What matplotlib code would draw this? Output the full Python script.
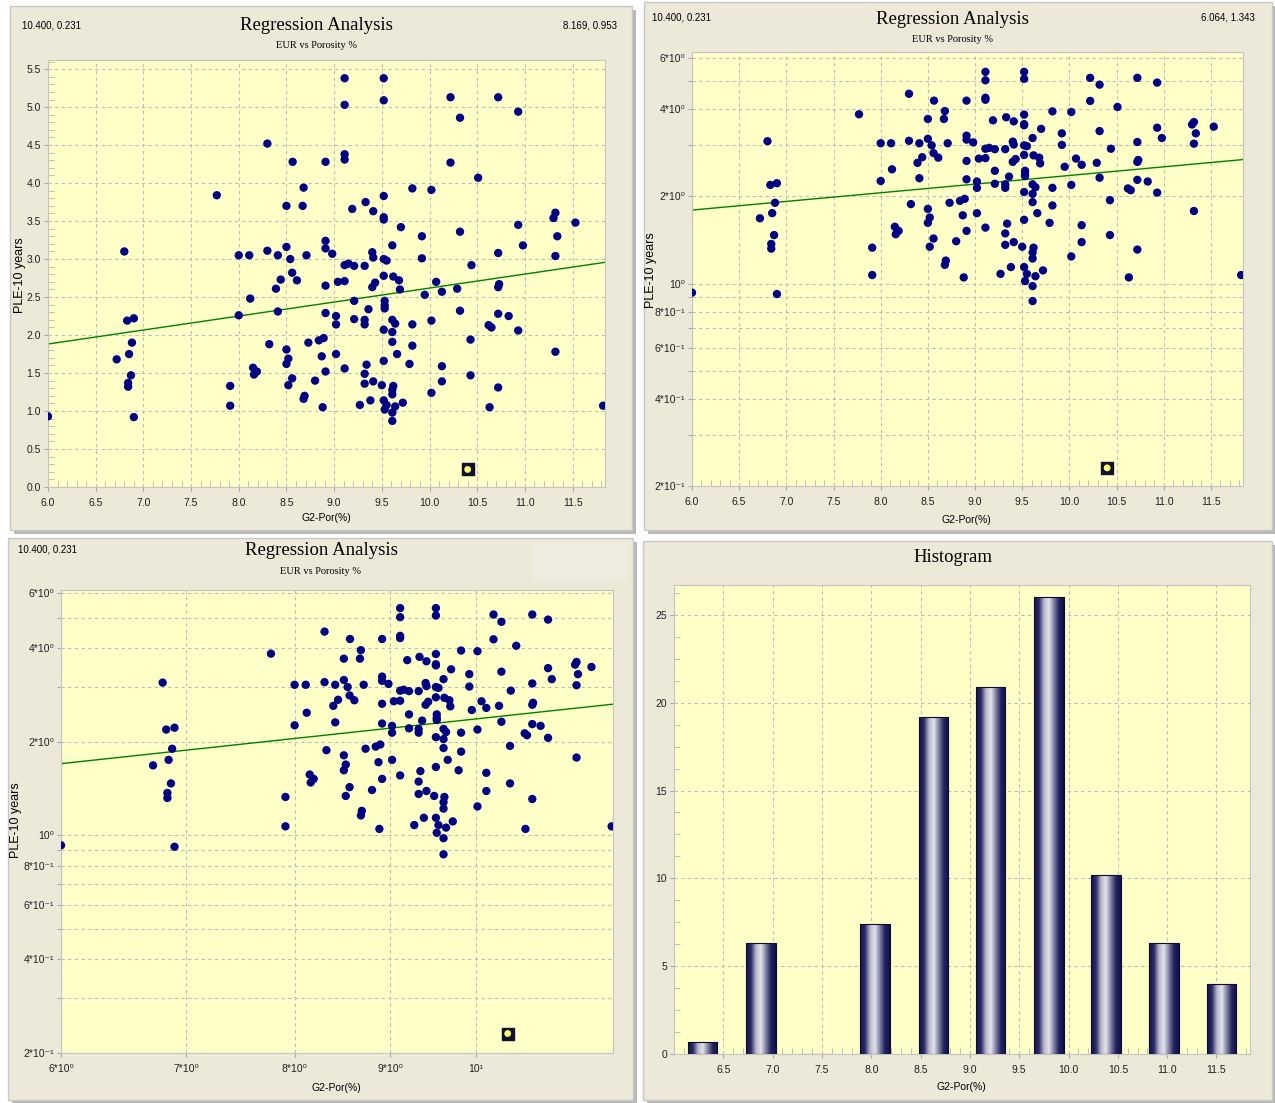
import numpy as np
import matplotlib.pyplot as plt
from matplotlib.patches import Rectangle
from matplotlib.colors import LinearSegmentedColormap
from matplotlib.ticker import MultipleLocator, FixedLocator, FixedFormatter, NullLocator

# porosity (%) and PLE-10 years
por = [8.30, 8.565, 8.91, 8.68, 7.77, 8.50, 8.67, 6.80, 8.00, 8.11,
       8.30, 8.41, 8.50, 8.54, 8.71, 8.91, 8.91, 8.98, 8.56, 8.44,
       8.61, 8.39, 8.91, 9.04, 8.12, 9.11, 9.52, 9.11, 9.52, 10.22,
       10.72, 10.32, 10.93, 9.11, 9.11, 10.22, 10.51, 9.82, 10.02, 9.52,
       9.19, 9.33, 9.41, 9.52, 9.52, 9.70, 9.92, 10.32, 10.93, 11.30,
       11.32, 11.53, 11.34, 9.61, 9.92, 9.40, 9.41, 9.52, 9.55, 9.11,
       9.15, 9.21, 9.32, 10.44, 10.72, 10.98, 11.32, 9.11, 9.52, 9.62,
       9.68, 9.69, 9.40, 9.43, 10.07, 9.95, 10.13, 10.29, 10.72, 10.73,
       9.21, 9.53, 6.00, 6.83, 6.90, 6.88, 6.72, 6.85, 6.87, 6.84,
       6.84, 6.90, 7.91, 7.91, 8.00, 8.41, 8.32, 8.15, 8.19, 8.16,
       8.50, 8.52, 8.50, 8.56, 8.52, 8.69, 8.68, 8.73, 8.84, 8.89,
       8.87, 8.91, 8.80, 8.88, 8.91, 9.02, 9.02, 9.02, 9.36, 9.53,
       9.53, 9.21, 9.32, 9.32, 9.61, 9.64, 9.52, 9.61, 9.82, 10.02,
       10.32, 10.72, 10.83, 10.62, 10.65, 10.93, 10.43, 9.61, 9.82, 9.66,
       9.52, 9.34, 9.11, 9.32, 9.32, 9.41, 9.50, 9.79, 10.13, 10.13,
       10.43, 9.62, 9.61, 9.61, 10.02, 10.72, 11.32, 9.38, 9.27, 9.52,
       9.55, 9.53, 9.64, 9.72, 9.61, 9.61, 10.63, 11.82]
ple = [4.52, 4.28, 4.28, 3.94, 3.84, 3.70, 3.70, 3.10, 3.05, 3.05,
       3.11, 3.05, 3.16, 3.00, 3.05, 3.24, 3.14, 3.07, 2.82, 2.73,
       2.72, 2.61, 2.65, 2.70, 2.48, 5.38, 5.38, 5.03, 5.09, 5.13,
       5.13, 4.86, 4.94, 4.38, 4.31, 4.27, 4.07, 3.93, 3.91, 3.83,
       3.66, 3.75, 3.63, 3.55, 3.52, 3.42, 3.30, 3.36, 3.45, 3.54,
       3.61, 3.48, 3.30, 3.18, 3.01, 3.09, 3.02, 3.00, 2.98, 2.92,
       2.94, 2.91, 2.91, 2.92, 3.08, 3.18, 3.04, 2.71, 2.78, 2.77,
       2.72, 2.60, 2.63, 2.69, 2.70, 2.53, 2.57, 2.61, 2.63, 2.67,
       2.45, 2.45, 0.93, 2.19, 2.22, 1.90, 1.68, 1.75, 1.47, 1.37,
       1.32, 0.92, 1.33, 1.07, 2.26, 2.31, 1.88, 1.57, 1.52, 1.48,
       1.81, 1.69, 1.62, 1.43, 1.34, 1.20, 1.16, 1.90, 1.93, 1.96,
       1.72, 1.52, 1.40, 1.05, 2.29, 2.25, 2.14, 1.75, 2.34, 2.39,
       2.35, 2.21, 2.20, 2.14, 2.20, 2.15, 2.07, 2.04, 2.14, 2.19,
       2.32, 2.28, 2.25, 2.13, 2.10, 2.06, 1.94, 1.91, 1.86, 1.75,
       1.66, 1.61, 1.56, 1.49, 1.36, 1.39, 1.34, 1.62, 1.59, 1.39,
       1.47, 1.33, 1.28, 1.22, 1.24, 1.31, 1.78, 1.14, 1.08, 1.14,
       1.08, 1.02, 1.06, 1.11, 0.98, 0.87, 1.05, 1.07]
# the highlighted (selected) well
sel_por, sel_ple = 10.400, 0.231

# histogram of porosity (percent of wells per bin)
hist_centers = [6.29, 6.88, 7.46, 8.04, 8.63, 9.21, 9.80, 10.38, 10.97, 11.55]
hist_pct = [0.7, 6.3, 0.0, 7.4, 19.2, 20.9, 26.0, 10.2, 6.3, 4.0]

lin_ticks = [6.0, 6.5, 7.0, 7.5, 8.0, 8.5, 9.0, 9.5, 10.0, 10.5, 11.0, 11.5]
log_y_grid = [0.2, 0.3, 0.4, 0.5, 0.6, 0.7, 0.8, 0.9, 1, 2, 3, 4, 5, 6]
log_y_text = ['2*10⁻¹', '', '4*10⁻¹', '', '6*10⁻¹', '', '8*10⁻¹', '', '10⁰',
              '2*10⁰', '', '4*10⁰', '', '6*10⁰']
log_x_ticks = [6, 7, 8, 9, 10]
log_x_text = ['6*10⁰', '7*10⁰', '8*10⁰', '9*10⁰', '10¹']

plt.rcParams['font.family'] = ['Liberation Sans', 'DejaVu Sans']

W, H = 1275, 1103
fig = plt.figure(figsize=(W / 100, H / 100), dpi=100, facecolor='white')

PANEL = '#ece9d8'
PLOT_BG = '#ffffc8'
DOT = '#000080'
SERIF = ['Liberation Serif', 'DejaVu Serif']


def fx(x):
    return x / W


def fy(y):
    return 1 - y / H


def panel(l, t, r, b):
    fig.patches.append(Rectangle((fx(l + 4), fy(b + 4)), fx(r - l), (b - t) / H,
                                 transform=fig.transFigure, facecolor='#b8b8b8',
                                 edgecolor='none', zorder=-3))
    fig.patches.append(Rectangle((fx(l), fy(b)), fx(r - l), (b - t) / H,
                                 transform=fig.transFigure, facecolor=PANEL,
                                 edgecolor='#c8c8c8', lw=1, zorder=-2))


def axes(l, t, r, b):
    return fig.add_axes([fx(l), fy(b), fx(r - l), (b - t) / H])


def style(ax):
    ax.set_facecolor(PLOT_BG)
    for s in ax.spines.values():
        s.set_color('#c4c4c4')
    ax.grid(True, which='major', color='#bcbcbc', ls=(0, (3, 3)), lw=0.8)
    ax.set_axisbelow(True)
    ax.tick_params(which='major', direction='out', length=3, color='#a8a8a8',
                   labelsize=7.5, pad=2, labelcolor='#202020')
    ax.tick_params(axis='x', which='major', pad=5)
    ax.tick_params(which='minor', direction='in', length=4, color='#b4b4b4')


def headers(cx, ty, left_txt, lx, right_txt=None, rx=None):
    fig.text(fx(lx), fy(ty), left_txt, fontsize=7, ha='left', va='center')
    if right_txt:
        fig.text(fx(rx), fy(ty), right_txt, fontsize=7, ha='right', va='center')
    fig.text(fx(cx), fy(ty + 1), 'Regression Analysis', family=SERIF, fontsize=13.5,
             ha='center', va='center')
    fig.text(fx(cx), fy(ty + 21), 'EUR vs Porosity %', family=SERIF, fontsize=7.5,
             ha='center', va='center')


def dots(ax):
    ax.scatter(por, ple, s=36, color=DOT, edgecolors='none', zorder=3)
    ax.scatter([sel_por], [sel_ple], s=75, marker='s', color='#101030', zorder=4)
    ax.scatter([sel_por], [sel_ple], s=24, color='#ffff70', edgecolors='none', zorder=5)


# the fit uses every well, the selected one included
x = np.array(por + [sel_por])
y = np.array(ple + [sel_ple])

panel(10, 6, 632, 530)
panel(644, 2, 1272, 530)
panel(8, 538, 633, 1100)
panel(643, 541, 1272, 1100)

# ---- top left: linear scatter
ax1 = axes(48, 60, 605, 487)
style(ax1)
dots(ax1)
ax1.set_xlim(6.0, 11.84)
ax1.set_ylim(0, 5.62)
ax1.set_xticks(lin_ticks)
ax1.set_xticklabels([f'{t:.1f}' for t in lin_ticks])
ax1.set_yticks(np.arange(0, 5.51, 0.5))
ax1.set_yticklabels([f'{t:.1f}' for t in np.arange(0, 5.51, 0.5)])
ax1.xaxis.set_minor_locator(MultipleLocator(0.1))
ax1.yaxis.set_minor_locator(MultipleLocator(0.1))
k, c = np.polyfit(x, y, 1)
xs = np.array(ax1.get_xlim())
ax1.plot(xs, c + k * xs, color='#008000', lw=1, zorder=2)
headers(316, 25, '10.400, 0.231', 22, '8.169, 0.953', 617)
fig.text(fx(326), fy(518), 'G2-Por(%)', fontsize=7.5, ha='center', va='center')
fig.text(fx(20), fy(275), 'PLE-10 years', fontsize=9, rotation=90, ha='center', va='center')

# ---- top right: log y
ax2 = axes(692, 52, 1243, 486)
style(ax2)
dots(ax2)
ax2.set_yscale('log')
ax2.set_xlim(6.0, 11.84)
ax2.set_ylim(0.2, 6.3)
ax2.set_xticks(lin_ticks)
ax2.set_xticklabels([f'{t:.1f}' for t in lin_ticks])
ax2.xaxis.set_minor_locator(MultipleLocator(0.1))
ax2.yaxis.set_major_locator(FixedLocator(log_y_grid))
ax2.yaxis.set_major_formatter(FixedFormatter(log_y_text))
ax2.yaxis.set_minor_locator(NullLocator())
k, c = np.polyfit(x, np.log10(y), 1)
xs = np.array(ax2.get_xlim())
ax2.plot(xs, 10 ** (c + k * xs), color='#008000', lw=1, zorder=2)
headers(952, 18, '10.400, 0.231', 652, '6.064, 1.343', 1255)
fig.text(fx(966), fy(520), 'G2-Por(%)', fontsize=7.5, ha='center', va='center')
fig.text(fx(651), fy(270), 'PLE-10 years', fontsize=9, rotation=90, ha='center', va='center')

# ---- bottom left: log-log
ax3 = axes(61, 590, 613, 1053)
style(ax3)
dots(ax3)
ax3.set_xscale('log')
ax3.set_yscale('log')
ax3.set_xlim(6.0, 11.84)
ax3.set_ylim(0.2, 6.15)
ax3.xaxis.set_major_locator(FixedLocator(log_x_ticks))
ax3.xaxis.set_major_formatter(FixedFormatter(log_x_text))
ax3.xaxis.set_minor_locator(NullLocator())
ax3.yaxis.set_major_locator(FixedLocator(log_y_grid))
ax3.yaxis.set_major_formatter(FixedFormatter(log_y_text))
ax3.yaxis.set_minor_locator(NullLocator())
k, c = np.polyfit(np.log10(x), np.log10(y), 1)
xs = np.array(ax3.get_xlim())
ax3.plot(xs, 10 ** (c + k * np.log10(xs)), color='#008000', lw=1, zorder=2)
headers(321, 550, '10.400, 0.231', 18)
fig.patches.append(Rectangle((fx(532), fy(580)), fx(96), 36 / H, transform=fig.transFigure,
                             facecolor='#efede2', edgecolor='none', zorder=-1))
fig.text(fx(336), fy(1088), 'G2-Por(%)', fontsize=7.5, ha='center', va='center')
fig.text(fx(16), fy(820), 'PLE-10 years', fontsize=9, rotation=90, ha='center', va='center')

# ---- bottom right: histogram
ax4 = axes(674, 585, 1250, 1054)
style(ax4)
ax4.set_xlim(6.0, 11.84)
ax4.set_ylim(0, 26.7)
bars = ax4.bar(hist_centers, hist_pct, width=0.3, color='none',
               edgecolor='#0c0c30', lw=0.8, zorder=4)
cyl = LinearSegmentedColormap.from_list(
    'cyl', ['#10104a', '#2c2c68', '#b8b8cc', '#e4e4ec', '#8080a4', '#24245e', '#10104a'])
grad = np.linspace(0, 1, 128)[None, :]
for b in bars:
    if b.get_height() <= 0:
        continue
    bx, bw, bh = b.get_x(), b.get_width(), b.get_height()
    im = ax4.imshow(grad, cmap=cyl, extent=(bx, bx + bw, 0, bh), aspect='auto', zorder=3)
    im.set_clip_path(b)
ax4.set_xlim(6.0, 11.84)
ax4.set_ylim(0, 26.7)
hist_ticks = lin_ticks[1:]
ax4.set_xticks(hist_ticks)
ax4.set_xticklabels([f'{t:.1f}' for t in hist_ticks])
ax4.set_yticks([0, 5, 10, 15, 20, 25])
ax4.xaxis.set_minor_locator(MultipleLocator(0.1))
ax4.yaxis.set_minor_locator(MultipleLocator(1.25))
fig.text(fx(953), fy(558), 'Histogram', family=SERIF, fontsize=13.5, ha='center', va='center')
fig.text(fx(961), fy(1087), 'G2-Por(%)', fontsize=7.5, ha='center', va='center')

fig.savefig('out.png', dpi=100, facecolor=fig.get_facecolor())
